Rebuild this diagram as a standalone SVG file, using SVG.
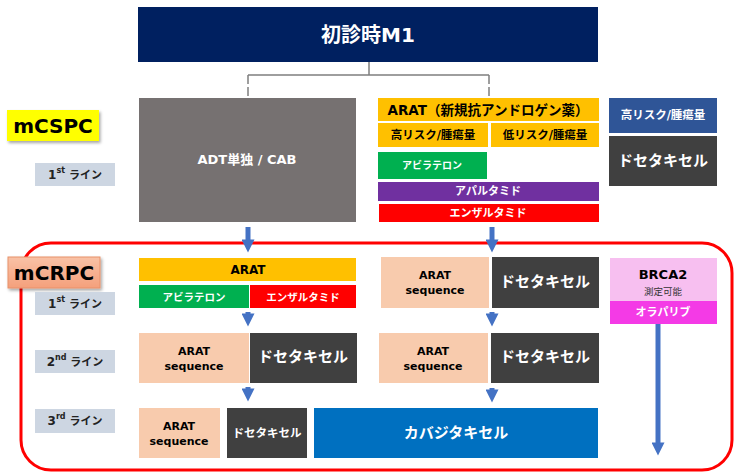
<svg xmlns="http://www.w3.org/2000/svg" width="740" height="472" viewBox="0 0 740 472">
<defs>
<style>
text{font-family:"DejaVu Sans","Noto Sans CJK JP",sans-serif;text-anchor:middle;dominant-baseline:central}
.w{fill:#fff}
.b{font-weight:bold}
.line{fill:#CDD6E2}
.lt{font-size:12px;fill:#222;font-weight:bold}
.ad{fill:#FFC000}
.gr{fill:#00B050}
.rd{fill:#FF0000}
.pu{fill:#7030A0}
.dk{fill:#404040}
.pe{fill:#F8CBAD}
.arr{stroke:#4472C4;stroke-width:5;fill:none}
</style>
<marker id="ah" viewBox="0 0 10 10" refX="5" refY="5" markerWidth="3" markerHeight="2.6" orient="auto" markerUnits="strokeWidth">
<path d="M0,0L10,5L0,10z" fill="#4472C4"/>
</marker>
<linearGradient id="sal" x1="0" y1="0" x2="0" y2="1">
<stop offset="0" stop-color="#F9C2A6"/><stop offset="1" stop-color="#F4A07C"/>
</linearGradient>
<filter id="sh" x="-10%" y="-10%" width="130%" height="140%">
<feDropShadow dx="1.5" dy="2" stdDeviation="1.5" flood-color="#000" flood-opacity="0.35"/>
</filter>
</defs>

<g id="crpc-frame"><rect x="21" y="243" width="711" height="227" rx="30" fill="none" stroke="#FF0000" stroke-width="3"/></g>

<g id="connectors">
<path d="M369,62V75M248,75H489" stroke="#7F7F7F" stroke-width="1.5" fill="none"/>
<path d="M248,75V97M489,75V97" stroke="#7F7F7F" stroke-width="1.5" fill="none" stroke-dasharray="9,3"/>
<line class="arr" x1="248" y1="227" x2="248" y2="246" marker-end="url(#ah)"/>
<line class="arr" x1="492" y1="227" x2="492" y2="246" marker-end="url(#ah)"/>
<line class="arr" x1="248" y1="312" x2="248" y2="320" marker-end="url(#ah)"/>
<line class="arr" x1="248" y1="387" x2="248" y2="395" marker-end="url(#ah)"/>
<line class="arr" x1="492" y1="312" x2="492" y2="320" marker-end="url(#ah)"/>
<line class="arr" x1="492" y1="388" x2="492" y2="396" marker-end="url(#ah)"/>
<line class="arr" x1="658" y1="324" x2="658" y2="449" marker-end="url(#ah)"/>
</g>

<g id="m1"><rect x="138" y="7" width="460" height="55" fill="#002060"/><text x="368" y="35" class="w b" font-size="20">初診時M1</text></g>

<g id="mcspc"><rect x="7" y="110" width="92" height="31" fill="#FFFF00" filter="url(#sh)"/><text x="53" y="126" class="b" font-size="20">mCSPC</text></g>
<g id="l1a"><rect class="line" x="35" y="163" width="80" height="23"/><text x="75" y="175" class="lt">1<tspan font-size="8" dy="-5">st</tspan><tspan font-size="11" dy="5"> ライン</tspan></text></g>

<g id="adt"><rect x="139" y="98" width="217" height="124" fill="#767171"/><text x="247" y="159" class="w b" font-size="13">ADT単独 / CAB</text></g>

<g id="arat-hdr"><rect class="ad" x="378" y="98" width="221" height="23"/><text x="488" y="110" class="b" font-size="13.5">ARAT（新規抗アンドロゲン薬）</text></g>
<g id="hr"><rect class="ad" x="378" y="123" width="110" height="24"/><text x="433" y="135" class="b" font-size="11.5">高リスク/腫瘍量</text></g>
<g id="lr"><rect class="ad" x="491" y="123" width="108" height="24"/><text x="545" y="135" class="b" font-size="11.5">低リスク/腫瘍量</text></g>
<g id="abi1"><rect class="gr" x="378" y="152" width="109" height="27"/><text x="432" y="165" class="w b" font-size="10">アビラテロン</text></g>
<g id="apa"><rect class="pu" x="378" y="182" width="221" height="19"/><text x="488" y="191" class="w b" font-size="11">アパルタミド</text></g>
<g id="enz1"><rect class="rd" x="379" y="204" width="220" height="18"/><text x="488" y="213" class="w b" font-size="11">エンザルタミド</text></g>

<g id="hr2"><rect x="609" y="98" width="108" height="35" fill="#2F5597"/><text x="663" y="115" class="w b" font-size="11.5">高リスク/腫瘍量</text></g>
<g id="doc0"><rect class="dk" x="609" y="136" width="108" height="50"/><text x="663" y="161" class="w b" font-size="15">ドセタキセル</text></g>

<g id="mcrpc"><rect x="8" y="257" width="92" height="31" fill="url(#sal)" stroke="#E8916A" stroke-width="1" filter="url(#sh)"/><text x="54" y="273" class="b" font-size="20">mCRPC</text></g>
<g id="l1b"><rect class="line" x="35" y="292" width="80" height="23"/><text x="75" y="304" class="lt">1<tspan font-size="8" dy="-5">st</tspan><tspan font-size="11" dy="5"> ライン</tspan></text></g>
<g id="l2"><rect class="line" x="35" y="350" width="80" height="23"/><text x="75" y="362" class="lt">2<tspan font-size="8" dy="-5">nd</tspan><tspan font-size="11" dy="5"> ライン</tspan></text></g>
<g id="l3"><rect class="line" x="35" y="409" width="80" height="24"/><text x="75" y="421" class="lt">3<tspan font-size="8" dy="-5">rd</tspan><tspan font-size="11" dy="5"> ライン</tspan></text></g>

<g id="arat2"><rect class="ad" x="139" y="258" width="217" height="23"/><text x="248" y="270" class="b" font-size="12">ARAT</text></g>
<g id="abi2"><rect class="gr" x="139" y="285" width="110" height="23"/><text x="194" y="297" class="w b" font-size="10.5">アビラテロン</text></g>
<g id="enz2"><rect class="rd" x="250" y="285" width="106" height="23"/><text x="303" y="297" class="w b" font-size="10.5">エンザルタミド</text></g>

<g id="seq2a"><rect class="pe" x="139" y="333" width="110" height="50"/><text x="194" y="351" class="b" font-size="11">ARAT</text><text x="194" y="366" class="b" font-size="11">sequence</text></g>
<g id="doc2a"><rect class="dk" x="250" y="333" width="107" height="50"/><text x="303" y="357" class="w b" font-size="15">ドセタキセル</text></g>

<g id="seq3"><rect class="pe" x="139" y="408" width="81" height="50"/><text x="179" y="426" class="b" font-size="11">ARAT</text><text x="179" y="441" class="b" font-size="11">sequence</text></g>
<g id="doc3"><rect class="dk" x="227" y="408" width="80" height="50"/><text x="267" y="433" class="w b" font-size="11.5">ドセタキセル</text></g>
<g id="cab"><rect x="314" y="408" width="284" height="50" fill="#0070C0"/><text x="456" y="433" class="w b" font-size="15">カバジタキセル</text></g>

<g id="seq1b"><rect class="pe" x="381" y="257" width="108" height="51"/><text x="435" y="275" class="b" font-size="11">ARAT</text><text x="435" y="290" class="b" font-size="11">sequence</text></g>
<g id="doc1b"><rect class="dk" x="492" y="257" width="107" height="51"/><text x="545" y="282" class="w b" font-size="15">ドセタキセル</text></g>
<g id="seq2b"><rect class="pe" x="379" y="333" width="109" height="50"/><text x="433" y="351" class="b" font-size="11">ARAT</text><text x="433" y="366" class="b" font-size="11">sequence</text></g>
<g id="doc2b"><rect class="dk" x="491" y="333" width="108" height="50"/><text x="545" y="357" class="w b" font-size="15">ドセタキセル</text></g>

<g id="brca"><rect x="610" y="258" width="107" height="43" fill="#F7BFF0"/><text x="663" y="274" class="b" font-size="13">BRCA2</text><text x="663" y="291" font-size="9.5" fill="#333">測定可能</text></g>
<g id="ola"><rect x="610" y="301" width="107" height="23" fill="#F43AE6"/><text x="663" y="312" class="w b" font-size="11">オラパリブ</text></g>
</svg>
